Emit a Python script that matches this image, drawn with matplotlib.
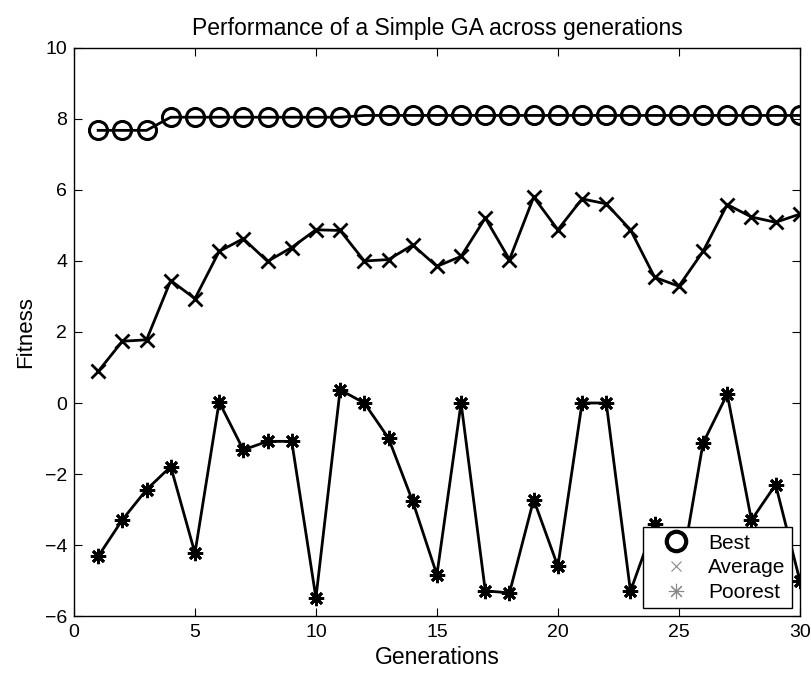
import matplotlib
matplotlib.use("Agg")
import matplotlib.pyplot as plt
from matplotlib.lines import Line2D

plt.rcParams["font.family"] = ["Liberation Sans", "DejaVu Sans"]

generations = list(range(1, 31))
best = [7.68, 7.68, 7.68, 8.05, 8.05, 8.05, 8.05, 8.05, 8.05, 8.05,
        8.05, 8.1, 8.1, 8.1, 8.1, 8.1, 8.1, 8.1, 8.1, 8.1,
        8.1, 8.1, 8.1, 8.1, 8.1, 8.1, 8.1, 8.1, 8.1, 8.1]
average = [0.89, 1.74, 1.78, 3.45, 2.94, 4.27, 4.63, 3.99, 4.38, 4.88,
           4.86, 4.00, 4.04, 4.45, 3.85, 4.13, 5.21, 4.04, 5.80, 4.88,
           5.75, 5.61, 4.88, 3.54, 3.29, 4.27, 5.59, 5.24, 5.09, 5.32]
poorest = [-4.32, -3.29, -2.44, -1.79, -4.23, 0.03, -1.32, -1.08, -1.08, -5.49,
           0.37, 0.0, -0.99, -2.77, -4.84, 0.0, -5.29, -5.35, -2.72, -4.60,
           0.0, 0.0, -5.30, -3.40, -5.10, -1.13, 0.25, -3.30, -2.30, -5.00]

xticks = [0, 5, 10, 15, 20, 25, 30]
yticks = [-6, -4, -2, 0, 2, 4, 6, 8, 10]

asterisk = (8, 2, 0)

fig = plt.figure(figsize=(8.12, 6.75), dpi=100)
ax = fig.add_axes([0.0911, 0.0874, 0.8939, 0.8415])

ax.plot(generations, best, color="black", lw=2, marker="o", ms=13,
        mfc="none", mec="black", mew=2.2)
ax.plot(generations, average, color="black", lw=2, marker="x", ms=10, mew=2)
ax.plot(generations, poorest, color="black", lw=2, marker=asterisk, ms=11, mew=2)

ax.set_xlim(0, 30)
ax.set_ylim(-6, 10)
ax.set_xticks(xticks)
ax.set_yticks(yticks)
ax.tick_params(direction="in", length=6, width=0.8, labelsize=14,
               top=True, right=True)
ax.tick_params(axis="x", pad=6)
ax.tick_params(axis="y", pad=5)
for s in ax.spines.values():
    s.set_linewidth(1.0)

ax.set_title("Performance of a Simple GA across generations", fontsize=16.5, pad=9)
ax.set_xlabel("Generations", fontsize=16.5, labelpad=3)
ax.set_ylabel("Fitness", fontsize=16, labelpad=6)

handles = [
    Line2D([], [], ls="none", marker="o", ms=14, mfc="none", mec="black", mew=3),
    Line2D([], [], ls="none", marker="x", ms=7, mec="#888888", mew=0.8),
    Line2D([], [], ls="none", marker=asterisk, ms=11, mec="#888888", mew=0.8),
]
leg = ax.legend(handles, ["Best", "Average", "Poorest"], loc="lower right",
                bbox_to_anchor=(0.989, 0.014), fontsize=15, frameon=True,
                fancybox=False, edgecolor="black", framealpha=1,
                borderpad=0.3, labelspacing=0.27, handletextpad=0.25,
                handlelength=2.6, borderaxespad=0)
leg.get_frame().set_linewidth(1.0)

fig.savefig("out.png", dpi=100)
